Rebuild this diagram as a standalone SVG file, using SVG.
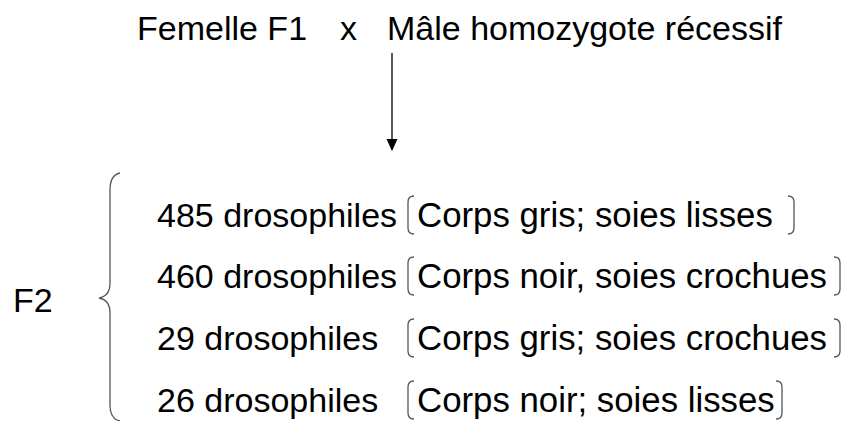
<svg xmlns="http://www.w3.org/2000/svg" width="846" height="421" viewBox="0 0 846 421">
<defs>
<style>
text{font-family:"Liberation Sans",Arial,sans-serif;font-size:34px;fill:#000}
.ph{font-size:34.8px}
.br{fill:none;stroke:#555;stroke-width:1.3}
.ln{stroke:#000;stroke-width:1.3;fill:none}
</style>
<marker id="ah" markerWidth="12" markerHeight="12" refX="11" refY="6" orient="auto" markerUnits="userSpaceOnUse">
<path d="M0,0.5 L12,6 L0,11.5 z" fill="#000"/>
</marker>
</defs>
<rect width="846" height="421" fill="#fff"/>
<g id="parents">
<text x="137" y="40">Femelle F1</text>
<text x="340" y="40">x</text>
<text x="387" y="40">Mâle homozygote récessif</text>
</g>
<g id="connectors">
<line class="ln" x1="392" y1="53" x2="392" y2="150" marker-end="url(#ah)"/>
</g>
<g id="f2">
<text x="13" y="312">F2</text>
<path class="br" d="M120,173 Q110,175 110,190 L110,283 Q110,296 99,298 Q110,300 110,313 L110,405 Q110,419 120,421"/>
</g>
<g id="row1">
<text x="157" y="227">485 drosophiles</text>
<path class="br" d="M414,196 Q408,196 408,202 L408,228 Q408,234 414,234"/>
<text class="ph" x="417" y="227">Corps gris; soies lisses</text>
<path class="br" d="M788,196 Q794,196 794,202 L794,228 Q794,234 788,234"/>
</g>
<g id="row2">
<text x="157" y="288">460 drosophiles</text>
<path class="br" d="M414,257 Q408,257 408,263 L408,289 Q408,295 414,295"/>
<text class="ph" x="417" y="288">Corps noir, soies crochues</text>
<path class="br" d="M834,257 Q840,257 840,263 L840,289 Q840,295 834,295"/>
</g>
<g id="row3">
<text x="157" y="350">29 drosophiles</text>
<path class="br" d="M414,319 Q408,319 408,325 L408,351 Q408,357 414,357"/>
<text class="ph" x="417" y="350">Corps gris; soies crochues</text>
<path class="br" d="M834,319 Q840,319 840,325 L840,351 Q840,357 834,357"/>
</g>
<g id="row4">
<text x="157" y="412">26 drosophiles</text>
<path class="br" d="M414,381 Q408,381 408,387 L408,413 Q408,419 414,419"/>
<text class="ph" x="417" y="412">Corps noir; soies lisses</text>
<path class="br" d="M776,381 Q782,381 782,387 L782,413 Q782,419 776,419"/>
</g>
</svg>
